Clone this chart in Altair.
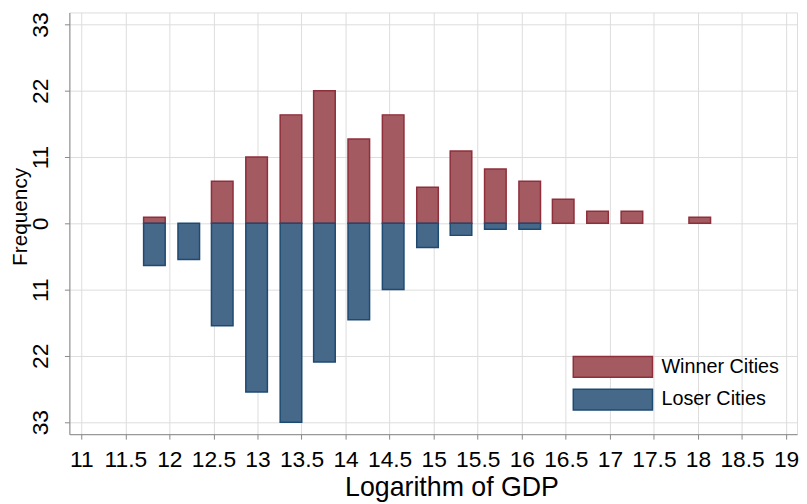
import altair as alt
import pandas as pd

# Bin centers (log GDP) and frequencies
centers = [11.83, 12.22, 12.60, 12.99, 13.38, 13.76, 14.15, 14.54, 14.93,
           15.31, 15.70, 16.09, 16.47, 16.86, 17.25, 17.64, 18.02]
winner = [1, 0, 7, 11, 18, 22, 14, 18, 6, 12, 9, 7, 4, 2, 2, 0, 1]
loser = [7, 6, 17, 28, 33, 23, 16, 11, 4, 2, 1, 1, 0, 0, 0, 0, 0]
series = ["Winner Cities", "Loser Cities"]
fill_colors = ["#A35A61", "#46698A"]
stroke_colors = ["#8E2F3B", "#1E4A72"]
x_ticks = [11, 11.5, 12, 12.5, 13, 13.5, 14, 14.5, 15, 15.5, 16, 16.5, 17, 17.5, 18, 18.5, 19]
y_ticks = [-33, -22, -11, 0, 11, 22, 33]
bar_width = 0.245

rows = []
for c, w, l in zip(centers, winner, loser):
    if w > 0:
        rows.append({"center": c, "freq": w, "group": series[0]})
    if l > 0:
        rows.append({"center": c, "freq": -l, "group": series[1]})
df = pd.DataFrame(rows)
df["x0"] = df["center"] - bar_width / 2
df["x1"] = df["center"] + bar_width / 2
df["base"] = 0

FONT = "Liberation Sans"
NARROW = "Liberation Sans Narrow, Arial Narrow, Liberation Sans"

legend_cfg = dict(
    title=None,
    orient="none",
    legendX=508,
    legendY=347,
    symbolType="M-4,-1.05H4V1.05H-4Z",
    symbolSize=400,
    symbolOffset=30,
    symbolStrokeWidth=1.5,
    symbolOpacity=1,
    labelOffset=38,
    labelFont=FONT,
    labelFontSize=20,
    labelColor="#000000",
    rowPadding=5,
    padding=0,
)

chart = alt.Chart(df).mark_bar(strokeWidth=1.5, opacity=1).encode(
    x=alt.X(
        "x0:Q",
        scale=alt.Scale(domain=[10.865, 19.124], nice=False, zero=False),
        axis=alt.Axis(
            values=x_ticks,
            format="~g",
            title="Logarithm of GDP",
            labelFont=NARROW,
            labelFontSize=23,
            titleFont=FONT,
            titleFontSize=27,
            titleFontWeight="normal",
            labelPadding=10,
            titleX=386,
            titlePadding=3,
            labelFlush=False,
            labelOverlap=False,
        ),
    ),
    x2="x1:Q",
    y=alt.Y(
        "freq:Q",
        scale=alt.Scale(domain=[-35, 35], nice=False),
        axis=alt.Axis(
            values=y_ticks,
            title="Frequency",
            labelExpr="abs(datum.value)",
            labelAngle=-90,
            labelAlign="center",
            labelBaseline="bottom",
            labelFont=NARROW,
            labelFontSize=23,
            titleFont=FONT,
            titleFontSize=21,
            titleFontWeight="normal",
            titleX=-39,
            titleY=206,
            titleBaseline="bottom",
            labelPadding=12,
            labelOverlap=False,
            labelFlush=False,
        ),
    ),
    y2="base:Q",
    color=alt.Color("group:N", scale=alt.Scale(domain=series, range=fill_colors),
                    legend=alt.Legend(**legend_cfg)),
    stroke=alt.Stroke("group:N", scale=alt.Scale(domain=series, range=stroke_colors),
                      legend=alt.Legend(**legend_cfg)),
).properties(
    width=735,
    height=426,
    padding={"left": 62, "top": 2, "right": 2, "bottom": 66},
    autosize=alt.AutoSizeParams(type="none"),
).configure_view(
    stroke=None,
).configure_axis(
    labelColor="#000000",
    titleColor="#000000",
    domainColor="#000000",
    domainWidth=1,
    tickColor="#000000",
    tickSize=8,
    tickWidth=1,
    gridColor="#E3E3E3",
    gridWidth=2,
    gridOpacity=1,
).configure(
    background="white",
)

chart.save("out.html", embed_options={"renderer": "svg", "actions": False})
